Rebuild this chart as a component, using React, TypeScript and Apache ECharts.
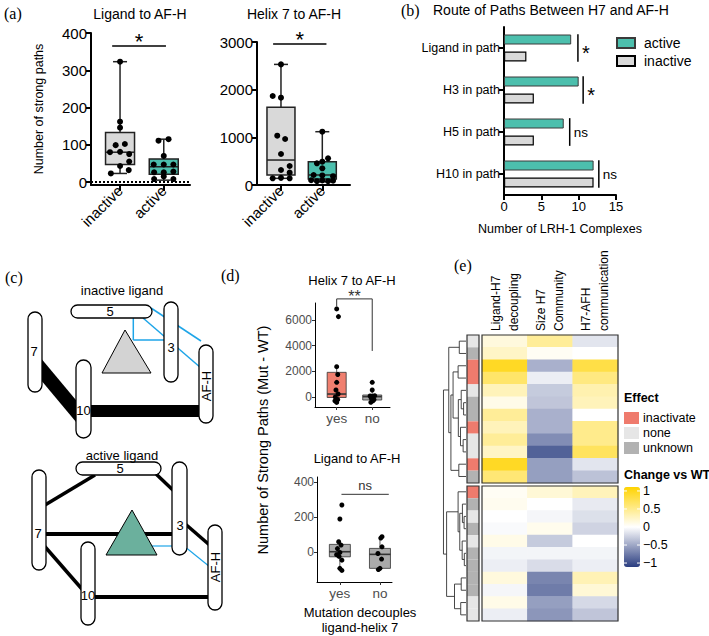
import React, { useEffect, useRef } from "react";
import * as echarts from "echarts";

const SANS = "'Liberation Sans', Arial, Helvetica, sans-serif";
const SERIF = "'Liberation Serif', 'Times New Roman', serif";

// ---------------- Panel (a) ----------------
const aGroups = ["inactive", "active"];
// box stats: [min, q1, median, q3, max]
const aLigandBoxes = [
  [23, 47, 80, 133, 323],
  [5, 21, 41, 62, 115],
];
// points: [jitter offset, value]
const aLigandInactive = [[0, 323], [0, 162], [0, 146], [-0.1, 99], [0.11, 102], [-0.23, 80], [0, 81], [0.21, 75], [0.21, 55], [0, 43], [0.2, 32], [-0.21, 23]];
const aLigandActive = [[-0.12, 111], [0.11, 115], [0, 70], [-0.23, 47], [0, 47], [0.22, 47], [-0.22, 26], [0, 26], [0.22, 28], [-0.22, 8], [0.22, 8], [0, 15]];
const aHelixBoxes = [
  [140, 210, 524, 1630, 2530],
  [70, 126, 210, 489, 1118],
];
const aHelixInactive = [[0, 2530], [-0.2, 1867], [0, 1832], [-0.09, 1035], [0.1, 965], [0, 650], [0.21, 399], [0, 315], [0.21, 259], [-0.2, 140], [0, 150], [0.21, 140]];
const aHelixActive = [[0, 1118], [0.14, 559], [0, 489], [-0.13, 455], [0, 350], [-0.21, 210], [0, 200], [0.26, 185], [-0.27, 100], [-0.13, 80], [0, 95], [0.14, 80], [0.26, 90]];
const aLigandTicks = [0, 100, 200, 300, 400];
const aHelixTicks = [0, 1000, 2000, 3000];
const aLigandSig = [[0.82, 2.05, 365]];
const aHelixSig = [[0.81, 2.1, 2958]];
const aSigLabels = ["*"];

// ---------------- Panel (b) ----------------
const routeCats = ["Ligand in path", "H3 in path", "H5 in path", "H10 in path"];
const routeActive = [9, 10, 8, 12];
const routeInactive = [3, 4, 4, 12];
// [category index, x value]
const routeSig = [[0, 9.9], [1, 10.6], [2, 8.8], [3, 12.7]];
const routeSigLabels = ["*", "*", "ns", "ns"];

// ---------------- Panel (d) ----------------
const dGroups = ["yes", "no"];
const dHelixBoxes = [
  [-420, -40, 230, 1920, 2360],
  [-415, -235, 25, 155, 545],
];
const dHelixYes = [[0, 6860], [0.05, 6260], [0, 2360], [0.03, 1750], [0, 1140], [-0.02, 545], [0.04, 230], [-0.04, 0], [0.03, -200], [0, -420], [-0.05, -300]];
const dHelixNo = [[0, 1140], [0, 545], [-0.06, 80], [0.07, 100], [0, 40], [-0.03, -80], [0.05, -200], [-0.04, -415], [0.02, -300]];
const dHelixTicks = [0, 2000, 4000, 6000];
const dLigandBoxes = [
  [-105, -27, 2, 44, 59],
  [-100, -93, -13, 21, 88],
];
const dLigandYes = [[0.05, 269], [0, 189], [-0.03, 59], [0.03, 40], [-0.06, 20], [0, -2], [-0.08, -15], [0.05, -46], [0, -93], [0.05, -105], [-0.02, -25]];
const dLigandNo = [[0.05, 88], [0.02, 80], [0.05, 30], [-0.05, -8], [0.04, -40], [0, -93], [-0.04, -100]];
const dLigandTicks = [0, 200, 400];
// [x1, x2, yTop, yLeftEnd, yRightEnd]
const dHelixSig = [[1, 2, 7640, 7040, 3585]];
const dLigandSig = [[1.04, 2.22, 330, 330, 330]];
const dSigLabels = ["**", "ns"];

// ---------------- Panel (e) ----------------
const heatCols = ["Ligand-H7\ndecoupling", "Size H7\nCommunity", "H7-AFH\ncommunication"];
const heatTop = [
  [0.15, 0.45, -0.15],
  [0.25, 0.05, 0.0],
  [0.95, -0.45, 0.8],
  [0.65, -0.1, 0.55],
  [0.3, -0.3, 0.35],
  [0.1, -0.33, 0.3],
  [0.45, -0.45, 0.0],
  [0.3, -0.45, 0.5],
  [0.45, -0.65, 0.5],
  [0.25, -0.9, 0.7],
  [0.95, -0.55, -0.15],
  [0.6, -0.55, -0.35],
];
const heatBottom = [
  [0.05, 0.18, 0.3],
  [0.07, 0.0, -0.12],
  [0.0, -0.05, -0.18],
  [-0.03, 0.08, -0.25],
  [0.1, -0.3, 0.0],
  [-0.06, -0.06, -0.06],
  [-0.1, -0.2, -0.1],
  [0.15, -0.7, 0.32],
  [-0.05, -0.75, 0.18],
  [0.1, -0.55, -0.22],
  [-0.1, -0.6, -0.33],
];
const effectNames = ["inactivate", "none", "unknown"];
const effectTop = [1, 2, 0, 0, 1, 2, 2, 0, 1, 1, 0, 2];
const effectBottom = [0, 2, 1, 2, 1, 2, 2, 2, 2, 1, 1];
// hclust-style merges: negative = leaf (1-based), positive = earlier merge
const dendroTopMerges = [
  [-1, -2, 2.8], [-3, -4, 3.3], [-6, -7, 1.0], [-5, 3, 2.0], [-9, -10, 1.2], [-8, 5, 2.3],
  [4, 6, 3.2], [2, 7, 5.4], [-11, -12, 3.0], [8, 9, 6.3], [1, 10, 7.2],
];
const dendroBottomMerges = [
  [-3, -4, 0.8], [-2, 1, 1.5], [-6, -7, 0.7], [-5, 3, 1.6], [2, 4, 2.6], [-1, 5, 3.3],
  [-8, -9, 2.0], [-10, -11, 2.2], [7, 8, 4.8], [6, 9, 8.1],
];
const dendroRootHeight = 9.4;
const cbTicks = [1, 0.5, 0, -0.5, -1];
const cbTickLabels = ["1", "0.5", "0", "\u22120.5", "\u22121"];

// ---------------- styles ----------------
const C_TEAL = "#4cbfad";
const C_GREY = "#d9d9d9";
const C_RED = "#f07f6f";
const C_DGREY = "#aaaaaa";
const EFFECT_COLORS = ["#ef7b6d", "#e6e6e6", "#b2b2b2"];
const BLUE = "#1ea5e8";

const txt = (text: string, x: number, y: number, o: any = {}) => ({
  type: "text",
  x,
  y,
  z: 20,
  rotation: o.rot || 0,
  style: {
    text,
    fill: o.color || "#000",
    fontSize: o.size || 13,
    fontFamily: o.family || SANS,
    fontWeight: o.weight || "normal",
    align: o.align || "center",
    verticalAlign: o.va || "middle",
    lineHeight: o.lh,
  },
});

const helix = (x: number, y: number, w: number, h: number) => ({
  type: "rect",
  z: 12,
  shape: { x, y, width: w, height: h, r: Math.min(w, h) / 2 },
  style: { fill: "#fff", stroke: "#000", lineWidth: 1.3 },
});
const seg = (x1: number, y1: number, x2: number, y2: number, w: number, color = "#000") => ({
  type: "line",
  z: 11,
  shape: { x1, y1, x2, y2 },
  style: { stroke: color, lineWidth: w },
});

const makeBoxRender = (o: any) => (params: any, api: any) => {
  const x = api.value(0);
  const v = [1, 2, 3, 4, 5].map((i) => api.value(i));
  const fill = o.fills[params.dataIndex];
  const p0 = api.coord([x, v[0]]);
  const cx = p0[0];
  const yMin = p0[1];
  const yQ1 = api.coord([x, v[1]])[1];
  const yMed = api.coord([x, v[2]])[1];
  const yQ3 = api.coord([x, v[3]])[1];
  const yMax = api.coord([x, v[4]])[1];
  const hw = o.boxW / 2;
  const ls = { stroke: o.stroke, lineWidth: o.lw };
  const children: any[] = [
    { type: "line", shape: { x1: cx, y1: yQ3, x2: cx, y2: yMax }, style: ls },
    { type: "line", shape: { x1: cx, y1: yQ1, x2: cx, y2: yMin }, style: ls },
    { type: "rect", shape: { x: cx - hw, y: yQ3, width: o.boxW, height: yQ1 - yQ3 }, style: { fill, stroke: o.stroke, lineWidth: o.lw } },
    { type: "line", shape: { x1: cx - hw, y1: yMed, x2: cx + hw, y2: yMed }, style: { stroke: o.medColor || o.stroke, lineWidth: o.medW } },
  ];
  if (o.capW > 0) {
    const cw = o.capW / 2;
    children.push({ type: "line", shape: { x1: cx - cw, y1: yMax, x2: cx + cw, y2: yMax }, style: ls });
    children.push({ type: "line", shape: { x1: cx - cw, y1: yMin, x2: cx + cw, y2: yMin }, style: ls });
  }
  return { type: "group", children };
};

const boxSeries = (xi: number, boxes: number[][], o: any) => ({
  type: "custom",
  xAxisIndex: xi,
  yAxisIndex: xi,
  z: 2,
  silent: true,
  clip: false,
  data: boxes.map((b, i) => [i + 1, ...b]),
  renderItem: makeBoxRender(o),
});

const pointSeries = (xi: number, pts: number[][], base: number, size: number, extra: any = {}) => ({
  type: "scatter",
  xAxisIndex: xi,
  yAxisIndex: xi,
  z: 4,
  silent: true,
  symbolSize: size,
  itemStyle: { color: "#000", opacity: 1 },
  data: pts.map(([j, v]) => [base + j, v]),
  ...extra,
});

function buildDendro(merges: number[][], offset: number) {
  const nodes: any[] = [];
  const segs: number[][] = [];
  const pos = (id: number) => (id < 0 ? { y: offset + (-id - 1) + 0.5, h: 0 } : nodes[id - 1]);
  merges.forEach(([a, b, h]) => {
    const A = pos(a);
    const B = pos(b);
    segs.push([h, A.y, B.y, A.h, B.h]);
    nodes.push({ y: (A.y + B.y) / 2, h });
  });
  return { segs, root: nodes[nodes.length - 1] };
}

const plain = (v: number) => String(v);

function buildOption() {
  const noOuter = { containLabel: false, outerBoundsMode: "none" };
  // heatmap geometry
  const hLeft = 482, hWidth = 136;
  const hTopY = 335, hTopH = 148, hBotY = 486, hBotH = 135;
  const rowPx = (hTopH / heatTop.length + hBotH / heatBottom.length) / 2;
  const gapRows = (hBotY - (hTopY + hTopH)) / rowPx;
  const dendroMax = heatTop.length + gapRows + heatBottom.length;
  const dTop = buildDendro(dendroTopMerges, 0);
  const dBot = buildDendro(dendroBottomMerges, heatTop.length + gapRows);
  const dendroSegs = [
    ...dTop.segs,
    ...dBot.segs,
    [dendroRootHeight, dTop.root.y, dBot.root.y, dTop.root.h, dBot.root.h],
  ];

  const grid = [
    { left: 91, top: 33, width: 99, height: 152, ...noOuter },
    { left: 257, top: 42, width: 93, height: 143, ...noOuter },
    { left: 504, top: 27, width: 112, height: 168, ...noOuter },
    { left: 315, top: 303, width: 75, height: 104, ...noOuter },
    { left: 317, top: 477, width: 75, height: 105, ...noOuter },
    { left: hLeft, top: hTopY, width: hWidth, height: hTopH, ...noOuter },
    { left: hLeft, top: hBotY, width: hWidth, height: hBotH, ...noOuter },
    { left: 467, top: hTopY, width: 12, height: hTopH, ...noOuter },
    { left: 467, top: hBotY, width: 12, height: hBotH, ...noOuter },
    { left: 443, top: hTopY, width: 23, height: hBotY + hBotH - hTopY, ...noOuter },
  ];

  const prismX = (gi: number, min: number, max: number) => ({
    type: "value", gridIndex: gi, min, max,
    axisLine: { show: true, onZero: false, lineStyle: { color: "#000", width: 2 } },
    axisTick: { show: true, length: 6, lineStyle: { color: "#000", width: 2 }, customValues: [1, 2] },
    axisLabel: { customValues: [1, 2], formatter: (v: number) => aGroups[Math.round(v) - 1] || "", rotate: 45, fontSize: 15, color: "#000", margin: 3, fontFamily: SANS },
    splitLine: { show: false },
  });
  const prismY = (gi: number, min: number, max: number, ticks: number[], name?: string) => ({
    type: "value", gridIndex: gi, min, max,
    name, nameLocation: "middle", nameGap: 46,
    nameTextStyle: { fontSize: 12.5, color: "#000", fontFamily: SANS },
    axisLine: { show: true, onZero: false, lineStyle: { color: "#000", width: 2 } },
    axisTick: { show: true, length: 5, lineStyle: { color: "#000", width: 2 }, customValues: ticks },
    axisLabel: { customValues: ticks, formatter: plain, fontSize: 15, color: "#000", margin: 4, fontFamily: SANS },
    splitLine: { show: false },
  });
  const ggX = (gi: number, min: number, max: number) => ({
    type: "value", gridIndex: gi, min, max,
    axisLine: { show: true, onZero: false, lineStyle: { color: "#000", width: 1 } },
    axisTick: { show: true, length: 3, lineStyle: { color: "#333", width: 1 }, customValues: [1, 2] },
    axisLabel: { customValues: [1, 2], formatter: (v: number) => dGroups[Math.round(v) - 1] || "", fontSize: 13.5, color: "#4d4d4d", margin: 4, fontFamily: SANS },
    splitLine: { show: false },
  });
  const ggY = (gi: number, min: number, max: number, ticks: number[]) => ({
    type: "value", gridIndex: gi, min, max,
    axisLine: { show: true, onZero: false, lineStyle: { color: "#000", width: 1 } },
    axisTick: { show: true, length: 3, lineStyle: { color: "#333", width: 1 }, customValues: ticks },
    axisLabel: { customValues: ticks, formatter: plain, fontSize: 12, color: "#4d4d4d", margin: 3, fontFamily: SANS },
    splitLine: { show: false },
  });
  const hiddenCat = (gi: number, data: string[], inverse = false) => ({
    type: "category", gridIndex: gi, data, show: false, inverse,
    axisLine: { onZero: false },
  });
  const rowNames = (n: number) => Array.from({ length: n }, (_, i) => String(i));

  const xAxis = [
    prismX(0, 0.336, 2.6),
    prismX(1, 0.42, 2.67),
    {
      type: "value", gridIndex: 2, min: 0, max: 15, interval: 5,
      name: "Number of LRH-1 Complexes", nameLocation: "middle", nameGap: 27,
      nameTextStyle: { fontSize: 12.5, color: "#000", fontFamily: SANS },
      axisLine: { show: true, onZero: false, lineStyle: { color: "#000", width: 2 } },
      axisTick: { show: true, length: 5, lineStyle: { color: "#000", width: 2 } },
      axisLabel: { fontSize: 13, color: "#000", margin: 5, fontFamily: SANS },
      splitLine: { show: false },
    },
    ggX(3, 0.39, 2.5),
    ggX(4, 0.43, 2.3),
    hiddenCat(5, heatCols),
    hiddenCat(6, heatCols),
    hiddenCat(7, ["a"]),
    hiddenCat(8, ["a"]),
    { type: "value", gridIndex: 9, min: 0, max: 9.6, inverse: true, show: false, axisLine: { onZero: false } },
  ];
  const yAxis = [
    prismY(0, -8, 400, aLigandTicks, "Number of strong paths"),
    prismY(1, 0, 3000, aHelixTicks),
    {
      type: "category", gridIndex: 2, data: routeCats, inverse: true,
      axisLine: { show: true, onZero: false, lineStyle: { color: "#000", width: 2 } },
      axisTick: { show: true, alignWithLabel: true, length: 5, lineStyle: { color: "#000", width: 2 } },
      axisLabel: { fontSize: 12.5, color: "#000", margin: 4, fontFamily: SANS },
    },
    ggY(3, -780, 7320, dHelixTicks),
    ggY(4, -171, 429, dLigandTicks),
    hiddenCat(5, rowNames(heatTop.length), true),
    hiddenCat(6, rowNames(heatBottom.length), true),
    hiddenCat(7, rowNames(heatTop.length), true),
    hiddenCat(8, rowNames(heatBottom.length), true),
    { type: "value", gridIndex: 9, min: 0, max: dendroMax, inverse: true, show: false, axisLine: { onZero: false } },
  ];

  const sigLineRender = (label: string, fontSize: number, dy: number, lw: number, color: string) => (params: any, api: any) => {
    const x1 = api.value(0), x2 = api.value(1), yT = api.value(2), yL = api.value(3), yR = api.value(4);
    const a = api.coord([x1, yT]);
    const b = api.coord([x2, yT]);
    const pts: any[] = [];
    if (!isNaN(yL) && yL !== yT) pts.push(api.coord([x1, yL]));
    pts.push(a, b);
    if (!isNaN(yR) && yR !== yT) pts.push(api.coord([x2, yR]));
    return {
      type: "group",
      children: [
        { type: "polyline", shape: { points: pts }, style: { stroke: color, lineWidth: lw, fill: "none" } },
        { type: "text", x: (a[0] + b[0]) / 2, y: a[1] + dy, style: { text: label, fontSize, fontFamily: SANS, fill: color, align: "center", verticalAlign: "middle" } },
      ],
    };
  };

  const series: any[] = [];
  // (a) left
  series.push(boxSeries(0, aLigandBoxes, { boxW: 29, capW: 14, lw: 1.5, stroke: "#222", medW: 1.5, fills: [C_GREY, C_TEAL] }));
  series.push(pointSeries(0, aLigandInactive, 1, 6, {
    markLine: { silent: true, symbol: "none", label: { show: false }, lineStyle: { type: [2, 2], color: "#000", width: 2 }, data: [{ yAxis: 0 }] },
  }));
  series.push(pointSeries(0, aLigandActive, 2, 6));
  series.push({ type: "custom", xAxisIndex: 0, yAxisIndex: 0, silent: true, clip: false, data: aLigandSig, renderItem: sigLineRender(aSigLabels[0], 22, -5, 1.5, "#000") });
  // (a) right
  series.push(boxSeries(1, aHelixBoxes, { boxW: 28, capW: 14, lw: 1.5, stroke: "#222", medW: 1.5, fills: [C_GREY, C_TEAL] }));
  series.push(pointSeries(1, aHelixInactive, 1, 6));
  series.push(pointSeries(1, aHelixActive, 2, 6));
  series.push({ type: "custom", xAxisIndex: 1, yAxisIndex: 1, silent: true, clip: false, data: aHelixSig, renderItem: sigLineRender(aSigLabels[0], 22, -5, 1.5, "#000") });
  // (b)
  series.push({ name: "active", type: "bar", xAxisIndex: 2, yAxisIndex: 2, data: routeActive, barWidth: 10, barGap: "70%", silent: true, itemStyle: { color: C_TEAL, borderColor: "#3a3a3a", borderWidth: 1 } });
  series.push({ name: "inactive", type: "bar", xAxisIndex: 2, yAxisIndex: 2, data: routeInactive, barWidth: 10, barGap: "70%", silent: true, itemStyle: { color: C_GREY, borderColor: "#000", borderWidth: 1.2 } });
  series.push({
    type: "custom", xAxisIndex: 2, yAxisIndex: 2, silent: true, clip: false,
    data: routeSig.map(([c, x]) => [x, c]),
    renderItem: (params: any, api: any) => {
      const p = api.coord([api.value(0), api.value(1)]);
      const band = api.size([0, 1])[1];
      const lab = routeSigLabels[params.dataIndex];
      const star = lab === "*";
      return {
        type: "group",
        children: [
          { type: "line", shape: { x1: p[0], y1: p[1] - band * 0.33, x2: p[0], y2: p[1] + band * 0.33 }, style: { stroke: "#000", lineWidth: 1.5 } },
          { type: "text", x: p[0] + 4, y: p[1] + (star ? 5 : 0), style: { text: lab, fontSize: star ? 20 : 13.5, fontFamily: SANS, fill: "#000", align: "left", verticalAlign: "middle" } },
        ],
      };
    },
  });
  // (d) top
  series.push(boxSeries(3, dHelixBoxes, { boxW: 19, capW: 0, lw: 0.8, stroke: "#333", medW: 1.6, fills: [C_RED, C_DGREY] }));
  series.push(pointSeries(3, dHelixYes, 1, 5));
  series.push(pointSeries(3, dHelixNo, 2, 5));
  series.push({ type: "custom", xAxisIndex: 3, yAxisIndex: 3, silent: true, clip: false, data: dHelixSig, renderItem: sigLineRender(dSigLabels[0], 16, -2, 1, "#333") });
  // (d) bottom
  series.push(boxSeries(4, dLigandBoxes, { boxW: 21, capW: 0, lw: 0.8, stroke: "#333", medW: 1.6, fills: [C_DGREY, C_DGREY] }));
  series.push(pointSeries(4, dLigandYes, 1, 5));
  series.push(pointSeries(4, dLigandNo, 2, 5));
  series.push({ type: "custom", xAxisIndex: 4, yAxisIndex: 4, silent: true, clip: false, data: dLigandSig, renderItem: sigLineRender(dSigLabels[1], 13, -9, 1, "#333") });
  // (e) heatmaps
  const hTopIdx = series.length;
  series.push({ type: "heatmap", xAxisIndex: 5, yAxisIndex: 5, silent: true, data: heatTop.flatMap((row, r) => row.map((v, c) => [c, r, v])) });
  const hBotIdx = series.length;
  series.push({ type: "heatmap", xAxisIndex: 6, yAxisIndex: 6, silent: true, data: heatBottom.flatMap((row, r) => row.map((v, c) => [c, r, v])) });
  const annRender = (params: any, api: any) => {
    const p = api.coord([api.value(0), api.value(1)]);
    const s = api.size([1, 1]);
    return { type: "rect", shape: { x: p[0] - s[0] / 2, y: p[1] - s[1] / 2, width: s[0], height: s[1] }, style: { fill: EFFECT_COLORS[api.value(2)] } };
  };
  series.push({ type: "custom", xAxisIndex: 7, yAxisIndex: 7, silent: true, data: effectTop.map((e, r) => [0, r, e]), renderItem: annRender });
  series.push({ type: "custom", xAxisIndex: 8, yAxisIndex: 8, silent: true, data: effectBottom.map((e, r) => [0, r, e]), renderItem: annRender });
  const frameRender = (params: any) => {
    const c = params.coordSys;
    return { type: "rect", shape: { x: c.x, y: c.y, width: c.width, height: c.height }, style: { fill: "none", stroke: "#333", lineWidth: 1.2 } };
  };
  [5, 6, 7, 8].forEach((i) => series.push({ type: "custom", xAxisIndex: i, yAxisIndex: i, z: 6, silent: true, data: [[0, 0]], renderItem: frameRender }));
  series.push({
    type: "custom", xAxisIndex: 9, yAxisIndex: 9, silent: true, clip: false,
    data: dendroSegs,
    renderItem: (params: any, api: any) => {
      const h = api.value(0), y1 = api.value(1), y2 = api.value(2), h1 = api.value(3), h2 = api.value(4);
      const pts = [api.coord([h1, y1]), api.coord([h, y1]), api.coord([h, y2]), api.coord([h2, y2])];
      return { type: "polyline", shape: { points: pts }, style: { stroke: "#333", lineWidth: 0.9, fill: "none" } };
    },
  });

  // colourbar geometry
  const cbTop = 487, cbH = 80, cbMax = 1.11;
  const cbY = (v: number) => cbTop + ((cbMax - v) / (2 * cbMax)) * cbH;
  const colW = hWidth / heatCols.length;

  const graphics: any[] = [
    // panel letters
    txt("(a)", 4, 13, { family: SERIF, size: 16, align: "left" }),
    txt("(b)", 401, 10, { family: SERIF, size: 16, align: "left" }),
    txt("(c)", 5, 277, { family: SERIF, size: 16, align: "left" }),
    txt("(d)", 221, 275, { family: SERIF, size: 16, align: "left" }),
    txt("(e)", 454, 265, { family: SERIF, size: 16, align: "left" }),
    // titles
    txt("Ligand to AF-H", 140, 14, { size: 14 }),
    txt("Helix 7 to AF-H", 294, 14, { size: 14 }),
    txt("Route of Paths Between H7 and AF-H", 433, 10, { size: 14, align: "left" }),
    txt("Helix 7 to AF-H", 352, 280, { size: 13 }),
    txt("Ligand to AF-H", 357, 458, { size: 13 }),
    txt("Number of Strong Paths (Mut - WT)", 263, 440, { size: 14.5, rot: Math.PI / 2 }),
    txt("Mutation decouples\nligand-helix 7", 360, 620, { size: 13, lh: 15 }),
    // heatmap column labels (rotated, reading upward)
    ...heatCols.flatMap((name, ci) =>
      name.split("\n").map((line, li, arr) =>
        txt(line, hLeft + colW * (ci + 0.5) + (li - (arr.length - 1) / 2) * 18, hTopY - 4, { size: 12, rot: Math.PI / 2, align: "left" })
      )
    ),
    // (c) inactive ligand
    txt("inactive ligand", 122, 290, { size: 13 }),
    seg(35, 362, 83.5, 420, 14),
    seg(84, 411, 206, 411, 12),
    seg(133.3, 318, 133.3, 340, 1.5, BLUE),
    seg(133.3, 340, 166, 340, 1.5, BLUE),
    seg(143, 318, 201, 368, 1.5, BLUE),
    seg(151, 308, 201, 341, 1.5, BLUE),
    helix(71, 305, 81, 13),
    helix(28, 312, 14, 80),
    helix(76, 360, 15, 78),
    helix(164, 302, 14, 80),
    helix(199, 345, 14, 78),
    { type: "polygon", z: 13, shape: { points: [[102, 373], [125, 330], [151, 373]] }, style: { fill: "#d3d3d3", stroke: "#000", lineWidth: 1 } },
    txt("5", 110, 311.5, { size: 13 }),
    txt("7", 34, 351, { size: 13 }),
    txt("10", 83.5, 410, { size: 13 }),
    txt("3", 171, 347, { size: 13 }),
    txt("AF-H", 206, 386, { size: 13, rot: Math.PI / 2 }),
    // (c) active ligand
    txt("active ligand", 122, 455, { size: 13 }),
    seg(40, 508, 95, 475, 3.5),
    seg(155, 473, 176, 493, 3.5),
    seg(40, 534, 178, 534, 4),
    seg(183, 522, 213, 548, 3.5),
    seg(40, 541, 88, 596, 3.5),
    seg(88, 597, 214, 597, 4),
    seg(150, 546, 174, 546, 1.2, BLUE),
    seg(184, 546, 210, 567, 1.2, BLUE),
    helix(76, 462, 85, 13),
    helix(32, 470, 14, 100),
    helix(81, 542, 14, 83),
    helix(172, 462, 15, 93),
    helix(208, 525, 14, 85),
    { type: "polygon", z: 13, shape: { points: [[106, 555], [132, 510], [157, 555]] }, style: { fill: "#6bb09d", stroke: "#000", lineWidth: 1 } },
    txt("5", 120, 468.5, { size: 13 }),
    txt("7", 38, 533, { size: 13 }),
    txt("10", 88, 595, { size: 13 }),
    txt("3", 180, 525, { size: 13 }),
    txt("AF-H", 215, 567, { size: 13, rot: Math.PI / 2 }),
    // (e) legends
    txt("Effect", 624, 398, { size: 12.5, weight: "bold", align: "left" }),
    ...effectNames.flatMap((n, i) => [
      { type: "rect", z: 20, shape: { x: 624, y: 412 + i * 15, width: 15, height: 12 }, style: { fill: EFFECT_COLORS[i] } },
      txt(n, 643, 418 + i * 15, { size: 12.5, align: "left" }),
    ]),
    txt("Change vs WT", 624, 475, { size: 12.5, weight: "bold", align: "left" }),
    ...cbTicks.flatMap((v, i) => [
      { type: "line", z: 25, shape: { x1: 624, y1: cbY(v), x2: 627, y2: cbY(v) }, style: { stroke: "#fff", lineWidth: 1 } },
      { type: "line", z: 25, shape: { x1: 637, y1: cbY(v), x2: 640, y2: cbY(v) }, style: { stroke: "#fff", lineWidth: 1 } },
      txt(cbTickLabels[i], 643, cbY(v), { size: 12.5, align: "left" }),
    ]),
  ];

  return {
    animation: false,
    backgroundColor: "#fff",
    textStyle: { fontFamily: SANS },
    grid,
    xAxis,
    yAxis,
    legend: {
      data: ["active", "inactive"], orient: "vertical", left: 616, top: 36, itemWidth: 18, itemHeight: 10, itemGap: 4,
      icon: "rect", selectedMode: false, padding: 0,
      textStyle: { fontSize: 14, color: "#000", fontFamily: SANS, padding: [0, 0, 0, 4] },
    },
    visualMap: {
      type: "continuous", min: -cbMax, max: cbMax, seriesIndex: [hTopIdx, hBotIdx], dimension: 2,
      inRange: { color: ["#2a3d80", "#ffffff", "#ffd300"] },
      orient: "vertical", left: 624, top: cbTop, itemWidth: 16, itemHeight: cbH, calculable: false, padding: 0,
      showLabel: false, hoverLink: false,
    },
    series,
    graphic: { elements: graphics },
  };
}

export default function App() {
  const ref = useRef<HTMLDivElement>(null);
  useEffect(() => {
    const chart = echarts.init(ref.current as HTMLDivElement, null, { renderer: "svg" });
    chart.setOption(buildOption() as any);
    return () => chart.dispose();
  }, []);
  return <div ref={ref} style={{ position: "absolute", left: 0, top: 0, width: 709, height: 636 }} />;
}
